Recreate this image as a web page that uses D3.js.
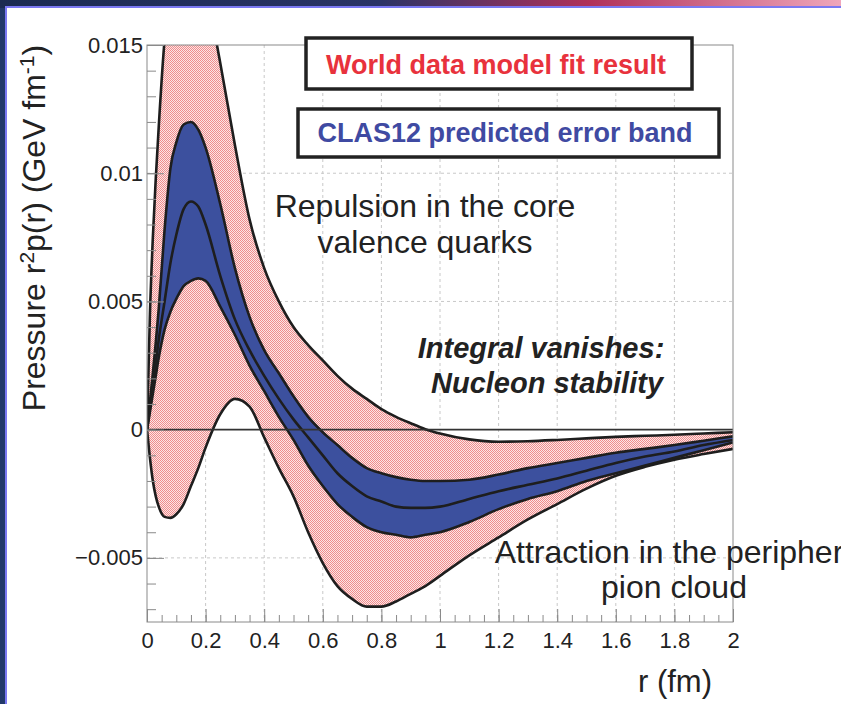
<!DOCTYPE html>
<html lang="en">
<head>
<meta charset="UTF-8" />
<title>Pressure distribution r^2 p(r)</title>
<script src="https://cdn.jsdelivr.net/npm/d3@7"></script>
<style>
  body { margin: 0; background: #fff; }
  svg { display: block; font-family: "Liberation Sans", Arial, Helvetica, sans-serif; }
  .grid line { stroke: #c8c8c8; stroke-width: 1px; stroke-dasharray: 3,3; }
  .axis path.domain { display: none; }
  .axis line { stroke: #8a8a8a; }
  .axis text { font-size: 22px; fill: #222; font-family: "Liberation Sans", Arial, sans-serif; }
  .edge { fill: none; stroke: #1e1e1e; stroke-width: 2.6px; stroke-linejoin: round; }
  .note { font-size: 32px; fill: #222; }
  .boxlabel { font-size: 27px; font-weight: bold; }
</style>
</head>
<body>
<svg width="841" height="704"></svg>
<script>
// r in fm
var rValues = [0, 0.01, 0.02, 0.03, 0.04, 0.06, 0.08, 0.1, 0.125, 0.15, 0.175, 0.2, 0.25, 0.3,
  0.35, 0.4, 0.45, 0.5, 0.55, 0.6, 0.65, 0.7, 0.75, 0.8, 0.85, 0.9, 0.95, 1.0,
  1.1, 1.2, 1.3, 1.4, 1.5, 1.6, 1.7, 1.8, 1.9, 2.0];

// central fit curve
var centralFit = [0, 0.0008, 0.0017, 0.0026, 0.0035, 0.005, 0.0065, 0.0076, 0.0086, 0.0089, 0.0087, 0.008, 0.006, 0.0043,
  0.0031, 0.0021, 0.0012, 0.0004, -0.0003, -0.001, -0.0017, -0.0022, -0.0026, -0.0028, -0.003, -0.00305, -0.00305, -0.003,
  -0.0027, -0.0024, -0.00215, -0.0019, -0.0016, -0.0013, -0.00105, -0.00085, -0.0006, -0.0004];

// CLAS12 predicted error band
var clasUpper = [0, 0.0011, 0.0022, 0.0034, 0.0047, 0.0078, 0.0102, 0.0112, 0.0119, 0.012, 0.0117, 0.011, 0.0088, 0.0063,
  0.0044, 0.0031, 0.0022, 0.0013, 0.0005, -0.0001, -0.0006, -0.0011, -0.0015, -0.0017, -0.00185, -0.00195, -0.002, -0.002,
  -0.00195, -0.00175, -0.0015, -0.0013, -0.0011, -0.0009, -0.00075, -0.0006, -0.00043, -0.00026];
var clasLower = [0, 0.0007, 0.0014, 0.0021, 0.0028, 0.0039, 0.0046, 0.0051, 0.0056, 0.0058, 0.0059, 0.0058, 0.0048, 0.0037,
  0.0025, 0.0015, 0.0005, -0.0004, -0.0014, -0.0022, -0.0029, -0.0034, -0.0038, -0.004, -0.0041, -0.0042, -0.0041, -0.004,
  -0.0036, -0.0031, -0.0027, -0.0024, -0.002, -0.0017, -0.0014, -0.0011, -0.0008, -0.0005];

// world data model fit band
var worldUpper = [0, 0.0045, 0.0075, 0.0098, 0.0118, 0.0152, 0.0172, 0.0183, 0.0188, 0.0188, 0.0182, 0.0172, 0.0143, 0.0111,
  0.0082, 0.0063, 0.005, 0.004, 0.0033, 0.0027, 0.0021, 0.0016, 0.0012, 0.0008, 0.0005, 0.00025, 0.00002, -0.00015,
  -0.00038, -0.00047, -0.00045, -0.0004, -0.00034, -0.00028, -0.00024, -0.0002, -0.00015, -0.0001];
var worldLower = [0, -0.0011, -0.002, -0.0026, -0.003, -0.0034, -0.00344, -0.0033, -0.0029, -0.0022, -0.0015, -0.0007, 0.0006, 0.0012,
  0.0009, -0.0003, -0.0015, -0.0026, -0.004, -0.0052, -0.0061, -0.0066, -0.0069, -0.0069, -0.0067, -0.0064, -0.0061, -0.0057,
  -0.0049, -0.0042, -0.0035, -0.0029, -0.0023, -0.0018, -0.00145, -0.00117, -0.00095, -0.00075];

var xTickValues = [0, 0.2, 0.4, 0.6, 0.8, 1, 1.2, 1.4, 1.6, 1.8, 2];
var xTickLabels = ["0", "0.2", "0.4", "0.6", "0.8", "1", "1.2", "1.4", "1.6", "1.8", "2"];
var yTickValues = [0.015, 0.01, 0.005, 0, -0.005];
var yTickLabels = ["0.015", "0.01", "0.005", "0", "\u22120.005"];

drawChart();

function drawChart() {
  var svg = d3.select("svg");
  var W = 841, H = 704;
  var pLeft = 147, pRight = 733, pTop = 45, pBottom = 622;

  // slide background
  var defs = svg.append("defs");
  var grad = defs.append("linearGradient").attr("id", "slideTop");
  grad.append("stop").attr("offset", "0").attr("stop-color", "#1b2b52");
  grad.append("stop").attr("offset", "0.45").attr("stop-color", "#2a3466");
  grad.append("stop").attr("offset", "0.7").attr("stop-color", "#b0305a");
  grad.append("stop").attr("offset", "1").attr("stop-color", "#f0a6bb");
  svg.append("rect").attr("width", W).attr("height", H).attr("fill", "#22386a");
  svg.append("rect").attr("width", W).attr("height", 8).attr("fill", "url(#slideTop)");
  svg.append("rect")
    .attr("x", 6).attr("y", 7).attr("width", W).attr("height", H)
    .attr("fill", "#fff").attr("stroke", "#7a78f2").attr("stroke-width", 2);

  // checkered pink fill
  var pat = defs.append("pattern").attr("id", "checker")
    .attr("x", 0).attr("y", 0)
    .attr("width", 2).attr("height", 2).attr("patternUnits", "userSpaceOnUse");
  pat.append("rect").attr("width", 2).attr("height", 2).attr("fill", "#fbe6e6");
  pat.append("rect").attr("width", 1).attr("height", 1).attr("fill", "#f08c8c");
  pat.append("rect").attr("x", 1).attr("y", 1).attr("width", 1).attr("height", 1).attr("fill", "#f08c8c");

  defs.append("clipPath").attr("id", "plotClip")
    .append("rect").attr("x", pLeft).attr("y", pTop)
    .attr("width", pRight - pLeft).attr("height", pBottom - pTop);

  var x = d3.scaleLinear().domain([0, 2]).range([pLeft, pRight]);
  var y = d3.scaleLinear().domain([-0.0075, 0.015]).range([pBottom, pTop]);

  // grid
  var grid = svg.append("g").attr("class", "grid");
  grid.selectAll("line.gx").data(xTickValues.slice(1, -1)).enter().append("line")
    .attr("x1", function (d) { return x(d); }).attr("x2", function (d) { return x(d); })
    .attr("y1", pTop).attr("y2", pBottom);
  grid.selectAll("line.gy").data([0.01, 0.005, -0.005]).enter().append("line")
    .attr("x1", pLeft).attr("x2", pRight)
    .attr("y1", function (d) { return y(d); }).attr("y2", function (d) { return y(d); });

  // bands
  var pts = rValues.map(function (r, i) {
    return { r: r, c: centralFit[i], cu: clasUpper[i], cl: clasLower[i], wu: worldUpper[i], wl: worldLower[i] };
  });
  var plot = svg.append("g").attr("clip-path", "url(#plotClip)");
  var curve = d3.curveMonotoneX;

  function band(lo, hi) {
    return d3.area().curve(curve)
      .x(function (d) { return x(d.r); })
      .y0(function (d) { return y(d[lo]); })
      .y1(function (d) { return y(d[hi]); });
  }
  function edge(key) {
    return d3.line().curve(curve)
      .x(function (d) { return x(d.r); })
      .y(function (d) { return y(d[key]); });
  }

  plot.append("path").datum(pts).attr("d", band("wl", "wu")).attr("fill", "url(#checker)");
  plot.append("path").datum(pts).attr("d", band("cl", "cu")).attr("fill", "#3c509e");

  ["wu", "wl", "cu", "cl", "c"].forEach(function (k) {
    plot.append("path").datum(pts).attr("class", "edge").attr("d", edge(k));
  });

  // zero line
  svg.append("line").attr("x1", pLeft).attr("x2", pRight)
    .attr("y1", y(0)).attr("y2", y(0))
    .attr("stroke", "#333").attr("stroke-width", 1.6);

  // axes
  var xMinor = d3.range(0, 2.0001, 0.05);
  svg.append("g").attr("class", "axis").attr("transform", "translate(0," + pBottom + ")")
    .call(d3.axisBottom(x).tickValues(xMinor).tickSize(-7).tickFormat(""));
  svg.append("g").attr("class", "axis").attr("transform", "translate(0," + pBottom + ")")
    .call(d3.axisBottom(x).tickValues(xTickValues).tickSize(-13).tickPadding(10)
      .tickFormat(function (d, i) { return xTickLabels[i]; }));

  var yMinor = d3.range(-7, 16).map(function (k) { return k * 0.001; });
  svg.append("g").attr("class", "axis").attr("transform", "translate(" + pLeft + ",0)")
    .call(d3.axisLeft(y).tickValues(yMinor).tickSize(-9).tickFormat(""));
  svg.append("g").attr("class", "axis").attr("transform", "translate(" + pLeft + ",0)")
    .call(d3.axisLeft(y).tickValues(yTickValues).tickSize(-17).tickPadding(4)
      .tickFormat(function (d, i) { return yTickLabels[i]; }));

  // frame
  svg.append("rect").attr("x", pLeft).attr("y", pTop)
    .attr("width", pRight - pLeft).attr("height", pBottom - pTop)
    .attr("fill", "none").attr("stroke", "#8a8a8a").attr("stroke-width", 1);

  // axis titles
  var yt = svg.append("text")
    .attr("transform", "translate(45,228) rotate(-90)")
    .attr("text-anchor", "middle")
    .style("font-size", "32px").style("fill", "#222");
  yt.append("tspan").text("Pressure r");
  yt.append("tspan").attr("baseline-shift", "super").style("font-size", "21px").text("2");
  yt.append("tspan").text("p(r) (GeV fm");
  yt.append("tspan").attr("baseline-shift", "super").style("font-size", "21px").text("-1");
  yt.append("tspan").text(")");

  svg.append("text").attr("x", 712).attr("y", 692).attr("text-anchor", "end")
    .style("font-size", "31px").style("fill", "#222").text("r (fm)");

  // legend boxes
  svg.append("rect").attr("x", 306).attr("y", 38).attr("width", 386).attr("height", 51)
    .attr("fill", "#fff").attr("stroke", "#222").attr("stroke-width", 3.5);
  svg.append("text").attr("class", "boxlabel").attr("x", 496).attr("y", 74).attr("text-anchor", "middle")
    .style("fill", "#e8323c").text("World data model fit result");

  svg.append("rect").attr("x", 298).attr("y", 109).attr("width", 421).attr("height", 48)
    .attr("fill", "#fff").attr("stroke", "#222").attr("stroke-width", 3.5);
  svg.append("text").attr("class", "boxlabel").attr("x", 505).attr("y", 142).attr("text-anchor", "middle")
    .style("fill", "#3f4aa2").text("CLAS12 predicted error band");

  // annotations
  var notes = [
    { t: "Repulsion in the core", x: 425, y: 217, it: false },
    { t: "valence quarks", x: 425, y: 253, it: false },
    { t: "Integral vanishes:", x: 541, y: 358, it: true },
    { t: "Nucleon stability", x: 547, y: 393, it: true },
    { t: "Attraction in the periphery", x: 677, y: 563, it: false },
    { t: "pion cloud", x: 674, y: 598, it: false }
  ];
  svg.selectAll("text.note").data(notes).enter().append("text")
    .attr("class", "note")
    .attr("x", function (d) { return d.x; })
    .attr("y", function (d) { return d.y; })
    .attr("text-anchor", "middle")
    .style("font-size", function (d) { return d.it ? "29px" : "32px"; })
    .style("font-weight", function (d) { return d.it ? "bold" : "normal"; })
    .style("font-style", function (d) { return d.it ? "italic" : "normal"; })
    .text(function (d) { return d.t; });
}
</script>
</body>
</html>
